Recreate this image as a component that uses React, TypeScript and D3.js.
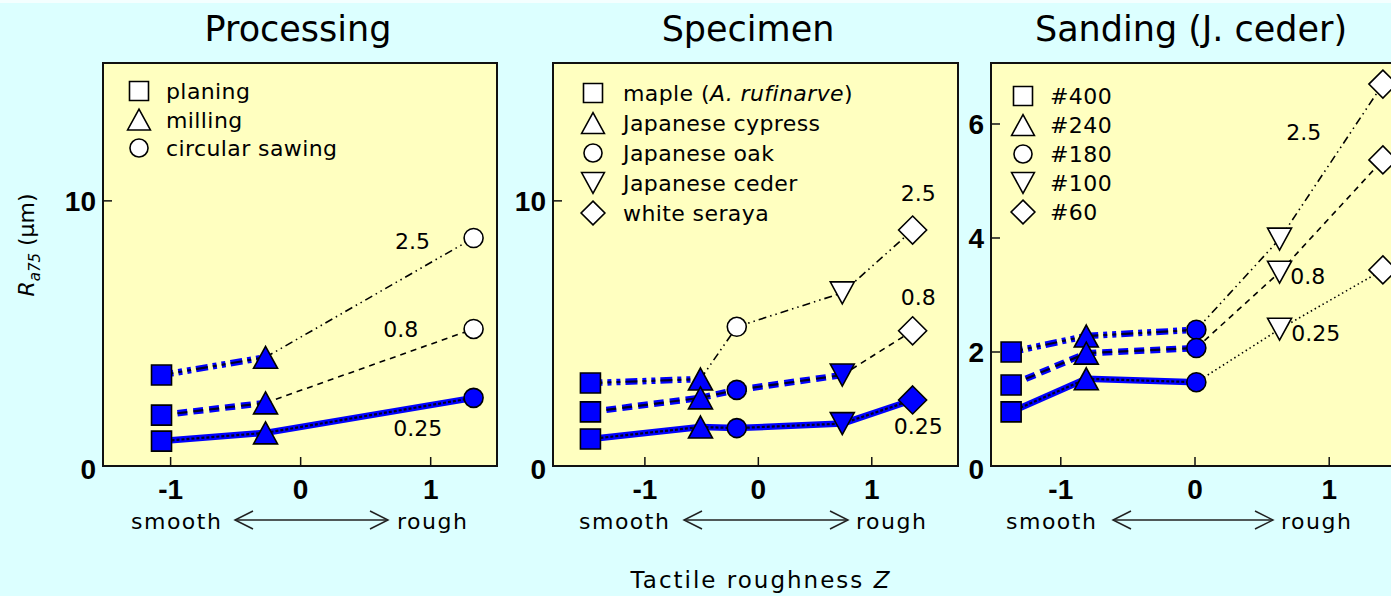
import React from "react";
import * as d3 from "d3";

// ---------- data ----------
const cutoffs = ["2.5", "0.8", "0.25"];

// Panel 1: Processing
const procNames = ["planing", "milling", "circular sawing"];
const procShapes = ["square", "triangle", "circle"];
const procZ = [-1.07, -0.27, 1.33];
const procRa25 = [3.43, 4.1, 8.6];
const procRa08 = [1.92, 2.38, 5.17];
const procRa025 = [0.94, 1.25, 2.57];
const procFill25 = [true, true, false];
const procFill08 = [true, true, false];
const procFill025 = [true, true, true];
const procLabelPos = [[0.86, 8.5], [0.77, 5.17], [0.9, 1.43]];

// Panel 2: Specimen
const specNames = ["maple (", "Japanese cypress", "Japanese oak", "Japanese ceder", "white seraya"];
const specShapes = ["square", "triangle", "circle", "invtriangle", "diamond"];
const specZ = [-1.48, -0.51, -0.19, 0.74, 1.36];
const specRa25 = [3.13, 3.28, 5.25, 6.53, 8.9];
const specRa08 = [2.04, 2.57, 2.87, 3.43, 5.1];
const specRa025 = [1.02, 1.47, 1.43, 1.6, 2.49];
const specFill25 = [true, true, false, false, false];
const specFill08 = [true, true, true, true, false];
const specFill025 = [true, true, true, true, true];
const specLabelPos = [[1.41, 10.3], [1.41, 6.38], [1.41, 1.51]];

// Panel 3: Sanding (J. ceder)
const sandNames = ["#400", "#240", "#180", "#100", "#60"];
const sandShapes = ["square", "triangle", "circle", "invtriangle", "diamond"];
const sandZ = [-1.37, -0.81, 0.01, 0.63, 1.4];
const sandRa25 = [2.0, 2.28, 2.39, 3.98, 6.7];
const sandRa08 = [1.42, 1.98, 2.07, 3.4, 5.37];
const sandRa025 = [0.95, 1.53, 1.47, 2.4, 3.44];
const sandFill25 = [true, true, true, false, false];
const sandFill08 = [true, true, true, false, false];
const sandFill025 = [true, true, true, false, false];
const sandLabelPos = [[0.81, 5.86], [0.84, 3.33], [0.9, 2.33]];

const xTicks = [-1, 0, 1];
const yTicksA = [0, 10];
const yTicksB = [0, 2, 4, 6];

// ---------- layout ----------
const W = 1391;
const H = 596;
const TOP = 63;
const BOTTOM = 466;
const BG = "#dcffff";
const PLOT_BG = "#ffffc0";
const BLUE = "#0000ff";
const FONT = "'DejaVu Sans', sans-serif";
const BOLD_FONT = "'Liberation Sans', Arial, sans-serif";

const thickDash = ["12,5,4,5,4,5", "10,6", null];
const thinDash = ["8,4,1.5,4,1.5,4", "6,5", "1.5,3"];

function markerPath(shape: string, s = 1): string {
  const p = d3.path();
  if (shape === "square") {
    const h = 10 * s;
    p.rect(-h, -h, 2 * h, 2 * h);
  } else if (shape === "triangle") {
    const w = 12 * s, h = 11 * s;
    p.moveTo(0, -h); p.lineTo(w, h); p.lineTo(-w, h); p.closePath();
  } else if (shape === "invtriangle") {
    const w = 12 * s, h = 11 * s;
    p.moveTo(-w, -h); p.lineTo(w, -h); p.lineTo(0, h); p.closePath();
  } else if (shape === "diamond") {
    const r = 14 * s;
    p.moveTo(0, -r); p.lineTo(r, 0); p.lineTo(0, r); p.lineTo(-r, 0); p.closePath();
  } else {
    p.arc(0, 0, 9.5 * s, 0, Math.PI * 2);
  }
  return p.toString();
}

type PanelProps = {
  title: string;
  titleX: number;
  x0: number; x1: number;
  xDomain: [number, number];
  yMax: number;
  yTicks: number[];
  shapes: string[];
  names: React.ReactNode[];
  z: number[];
  series: number[][];
  fills: boolean[][];
  labelPos: number[][];
  legendX: number;
  legendTextX: number;
  legendY0: number;
  legendStep: number;
  smoothX: number; arrowX1: number; arrowX2: number; roughX: number;
};

function Panel(props: PanelProps) {
  const x = d3.scaleLinear().domain(props.xDomain).range([props.x0, props.x1]);
  const y = d3.scaleLinear().domain([0, props.yMax]).range([BOTTOM, TOP]);
  const line = d3.line<[number, number]>().x(d => x(d[0])).y(d => y(d[1]));
  const clipId = "clip" + props.title.replace(/[^a-z]/gi, "");

  const segs: React.ReactNode[] = [];
  props.series.forEach((vals, si) => {
    for (let i = 0; i < vals.length - 1; i++) {
      const pts: [number, number][] = [[props.z[i], vals[i]], [props.z[i + 1], vals[i + 1]]];
      const d = line(pts) || "";
      const blue = props.fills[si][i] && props.fills[si][i + 1];
      if (blue) {
        segs.push(
          <g key={`s${si}-${i}`}>
            <path d={d} stroke={BLUE} strokeWidth={6.5} fill="none" strokeDasharray={thickDash[si] || undefined} />
            <path d={d} stroke="#000" strokeWidth={2.2} fill="none" strokeDasharray={thickDash[si] || "3,2"} opacity={0.85} />
          </g>
        );
      } else {
        segs.push(
          <path key={`s${si}-${i}`} d={d} stroke="#000" strokeWidth={1.6} fill="none" strokeDasharray={thinDash[si]} />
        );
      }
    }
  });

  const marks: React.ReactNode[] = [];
  props.series.forEach((vals, si) => {
    vals.forEach((v, i) => {
      marks.push(
        <path key={`m${si}-${i}`} d={markerPath(props.shapes[i])}
          transform={`translate(${x(props.z[i])},${y(v)})`}
          fill={props.fills[si][i] ? BLUE : "#fff"} stroke="#000" strokeWidth={1.6} />
      );
    });
  });

  const arrowY = 520;
  return (
    <g>
      <text x={props.titleX} y={41} textAnchor="middle" fontFamily={FONT} fontSize={35}>{props.title}</text>
      <defs>
        <clipPath id={clipId}><rect x={props.x0} y={TOP} width={props.x1 - props.x0} height={BOTTOM - TOP} /></clipPath>
      </defs>
      <rect x={props.x0} y={TOP} width={props.x1 - props.x0} height={BOTTOM - TOP} fill={PLOT_BG} />
      {/* legend */}
      {props.names.map((n, i) => (
        <g key={`lg${i}`}>
          <path d={markerPath(props.shapes[i], props.shapes[i] === "diamond" ? 0.85 : 0.95)}
            transform={`translate(${props.legendX},${props.legendY0 + i * props.legendStep})`}
            fill="#fff" stroke="#000" strokeWidth={1.6} />
          <text x={props.legendTextX} y={props.legendY0 + i * props.legendStep + 8} fontFamily={FONT} fontSize={22} letterSpacing={0.4}>{n}</text>
        </g>
      ))}
      <g clipPath={`url(#${clipId})`}>
        {segs}
        {marks}
      </g>
      {cutoffs.map((c, i) => (
        <text key={`cl${i}`} x={x(props.labelPos[i][0])} y={y(props.labelPos[i][1]) + 8} textAnchor="middle" fontFamily={FONT} fontSize={22}>{c}</text>
      ))}
      {/* frame */}
      <rect x={props.x0} y={TOP} width={props.x1 - props.x0} height={BOTTOM - TOP} fill="none" stroke="#111" strokeWidth={2} />
      {/* y ticks */}
      {props.yTicks.map(t => (
        <g key={`yt${t}`}>
          {t !== 0 && <line x1={props.x0} x2={props.x0 + 9} y1={y(t)} y2={y(t)} stroke="#111" strokeWidth={1.5} />}
          <text x={props.x0 - 7} y={y(t) + 10 + (t === 0 ? 3 : 0)} textAnchor="end" fontFamily={BOLD_FONT} fontWeight="bold" fontSize={28}>{t}</text>
        </g>
      ))}
      {/* x ticks */}
      {xTicks.map(t => (
        <g key={`xt${t}`}>
          <line x1={x(t)} x2={x(t)} y1={BOTTOM} y2={BOTTOM - 9} stroke="#111" strokeWidth={1.5} />
          <text x={x(t)} y={499} textAnchor="middle" fontFamily={BOLD_FONT} fontWeight="bold" fontSize={28}>{t}</text>
        </g>
      ))}
      {/* smooth <-> rough */}
      <text x={props.smoothX} y={529} fontFamily={FONT} fontSize={22} letterSpacing={1.5}>smooth</text>
      <text x={props.roughX} y={529} fontFamily={FONT} fontSize={22} letterSpacing={1.5}>rough</text>
      <line x1={props.arrowX1} x2={props.arrowX2} y1={arrowY} y2={arrowY} stroke="#222" strokeWidth={1.5} />
      <path d={`M${props.arrowX1 + 18},${arrowY - 9} L${props.arrowX1},${arrowY} L${props.arrowX1 + 18},${arrowY + 9}`} fill="none" stroke="#222" strokeWidth={1.5} />
      <path d={`M${props.arrowX2 - 18},${arrowY - 9} L${props.arrowX2},${arrowY} L${props.arrowX2 - 18},${arrowY + 9}`} fill="none" stroke="#222" strokeWidth={1.5} />
    </g>
  );
}

export default function App() {
  const specLegend: React.ReactNode[] = specNames.map((n, i) =>
    i === 0 ? (
      <tspan key="m">maple (<tspan fontStyle="italic">A. rufinarve</tspan>)</tspan>
    ) : n
  );
  return (
    <svg width={W} height={H} style={{ position: "absolute", left: 0, top: 0 }}>
      <rect x={0} y={0} width={W} height={H} fill={BG} />
      <rect x={0} y={0} width={W} height={3} fill="#f4ffff" />
      <Panel title="Processing" titleX={298} x0={103} x1={497} xDomain={[-1.52, 1.51]} yMax={15.2} yTicks={yTicksA}
        shapes={procShapes} names={procNames} z={procZ}
        series={[procRa25, procRa08, procRa025]} fills={[procFill25, procFill08, procFill025]}
        labelPos={procLabelPos} legendX={139} legendTextX={166} legendY0={91} legendStep={28.5}
        smoothX={131} arrowX1={235} arrowX2={388} roughX={397} />
      <Panel title="Specimen" titleX={748} x0={553} x1={958} xDomain={[-1.81, 1.76]} yMax={15.2} yTicks={yTicksA}
        shapes={specShapes} names={specLegend} z={specZ}
        series={[specRa25, specRa08, specRa025]} fills={[specFill25, specFill08, specFill025]}
        labelPos={specLabelPos} legendX={593} legendTextX={623} legendY0={93} legendStep={30}
        smoothX={579} arrowX1={684} arrowX2={848} roughX={856} />
      <Panel title="Sanding (J. ceder)" titleX={1191} x0={991} x1={1399} xDomain={[-1.52, 1.52]} yMax={7.07} yTicks={yTicksB}
        shapes={sandShapes} names={sandNames} z={sandZ}
        series={[sandRa25, sandRa08, sandRa025]} fills={[sandFill25, sandFill08, sandFill025]}
        labelPos={sandLabelPos} legendX={1023} legendTextX={1050} legendY0={96} legendStep={29}
        smoothX={1006} arrowX1={1113} arrowX2={1273} roughX={1281} />
      {/* y axis title */}
      <text transform="translate(34,245) rotate(-90)" textAnchor="middle" fontFamily={FONT} fontSize={22}>
        <tspan fontStyle="italic">R</tspan>
        <tspan fontStyle="italic" fontSize={15} dy={6}>a75</tspan>
        <tspan dy={-6}> (µm)</tspan>
      </text>
      <text x={761} y={588} textAnchor="middle" fontFamily={FONT} fontSize={23} letterSpacing={2}>
        Tactile roughness <tspan fontStyle="italic">Z</tspan>
      </text>
    </svg>
  );
}
